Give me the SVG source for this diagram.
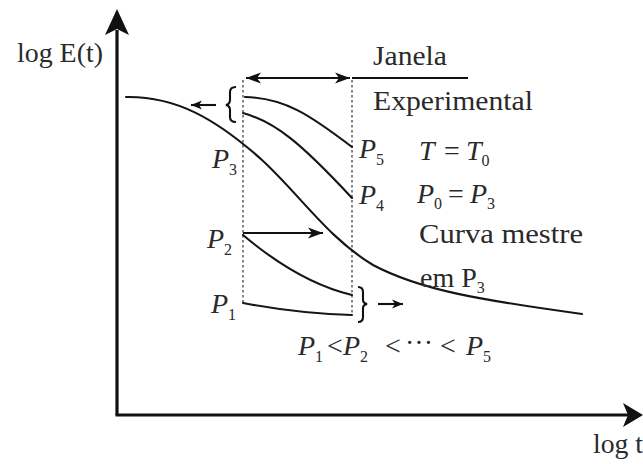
<svg xmlns="http://www.w3.org/2000/svg" width="643" height="464" viewBox="0 0 643 464">
<style>
.t{font-family:"Liberation Serif","Times New Roman",serif;fill:#2a2a2a;font-size:28px}
.i{font-style:italic}
.s{font-size:16px;font-style:normal}
.c{fill:none;stroke:#151515;stroke-width:2.1;stroke-linecap:round}
.ax{fill:none;stroke:#111;stroke-width:3.2}
.d{fill:none;stroke:#666;stroke-width:1.6;stroke-dasharray:2.5,2.5}
.ar{fill:none;stroke:#111;stroke-width:2.1}
</style>
<defs>
<marker id="ah" markerUnits="userSpaceOnUse" markerWidth="16" markerHeight="12" refX="15" refY="6" orient="auto-start-reverse"><path d="M0,0.5 L15,6 L0,11.5 L4,6 Z" fill="#111"/></marker>
<marker id="sh" markerUnits="userSpaceOnUse" markerWidth="12" markerHeight="10" refX="11" refY="5" orient="auto-start-reverse"><path d="M0,0.5 L11,5 L0,9.5 L3,5 Z" fill="#111"/></marker>
</defs>
<rect width="643" height="464" fill="#fff"/>
<g id="axes">
<line class="ax" x1="117" y1="30" x2="117" y2="415"/>
<line class="ax" x1="115.5" y1="415" x2="628" y2="415"/>
<path d="M117,9 L129,35 L117,29 L105,35 Z" fill="#111"/>
<path d="M643,415 L623,403 L628,415 L623,427 Z" fill="#111"/>
</g>
<g id="window">
<line class="d" x1="243" y1="80" x2="243" y2="303"/>
<line class="d" x1="352" y1="80" x2="352" y2="315"/>
</g>
<g id="master-curve">
<path class="c" d="M126,97 C175,96 215,118 262,160 C300,195 328,238 373,265 C420,290 480,300 582,314"/>
</g>
<g id="window-curves">
<path class="c" d="M245,97 C285,98 310,115 352,147"/>
<path class="c" d="M243,113 C275,122 300,142 352,198"/>
<path class="c" d="M243,235 C275,262 310,285 352,295"/>
<path class="c" d="M243,303 C280,310 315,314 352,315"/>
</g>
<g id="brackets">
<path class="ar" d="M236,87 Q230,87 230,92 L230,100 Q230,104 226,105 Q230,106 230,110 L230,117 Q230,122 236,122"/>
<path class="ar" d="M358,287 Q363,287 363,292 L363,300 Q363,303 367,304 Q363,305 363,308 L363,317 Q363,322 358,322"/>
</g>
<g id="connectors">
<line class="ar" x1="246" y1="78" x2="350" y2="78" marker-start="url(#ah)" marker-end="url(#ah)"/>
<line class="ar" x1="352" y1="78" x2="468" y2="78"/>
<line class="ar" x1="216" y1="105" x2="191" y2="105" marker-end="url(#sh)"/>
<line class="ar" x1="378" y1="304" x2="403" y2="304" marker-end="url(#sh)"/>
<line class="ar" x1="243" y1="233" x2="323" y2="233" marker-end="url(#ah)"/>
</g>
<g id="labels">
<text class="t" x="17" y="62" textLength="86" lengthAdjust="spacingAndGlyphs">log E(t)</text>
<text class="t" x="593" y="453" textLength="50" lengthAdjust="spacingAndGlyphs">log t</text>
<text class="t" x="373" y="65" textLength="74" lengthAdjust="spacingAndGlyphs">Janela</text>
<text class="t" x="373" y="110" textLength="160" lengthAdjust="spacingAndGlyphs">Experimental</text>
<text class="t" x="419" y="243" textLength="164" lengthAdjust="spacingAndGlyphs">Curva mestre</text>
<text class="t" x="420" y="287">em P<tspan class="s" dy="6">3</tspan></text>
<text class="t i" x="212" y="168">P<tspan class="s" dy="7">3</tspan></text>
<text class="t i" x="207" y="248">P<tspan class="s" dy="7">2</tspan></text>
<text class="t i" x="211" y="313">P<tspan class="s" dy="7">1</tspan></text>
<text class="t i" x="359" y="158">P<tspan class="s" dy="7">5</tspan></text>
<text class="t i" x="359" y="204">P<tspan class="s" dy="7">4</tspan></text>
<text class="t i" x="419" y="160">T</text>
<text class="t" x="444" y="160">=</text>
<text class="t i" x="466" y="160">T<tspan class="s" dy="6">0</tspan></text>
<text class="t i" x="417" y="203">P<tspan class="s" dy="6">0</tspan></text>
<text class="t" x="448" y="203">=</text>
<text class="t i" x="470" y="203">P<tspan class="s" dy="6">3</tspan></text>
<text class="t i" x="298" y="355">P<tspan class="s" dy="7">1</tspan></text>
<text class="t" x="327" y="355">&lt;</text>
<text class="t i" x="343" y="355">P<tspan class="s" dy="7">2</tspan></text>
<text class="t" x="385" y="355">&lt;</text>
<text class="t" x="405" y="352" font-size="20px">···</text>
<text class="t" x="440" y="355">&lt;</text>
<text class="t i" x="466" y="355">P<tspan class="s" dy="7">5</tspan></text>
</g>
</svg>
